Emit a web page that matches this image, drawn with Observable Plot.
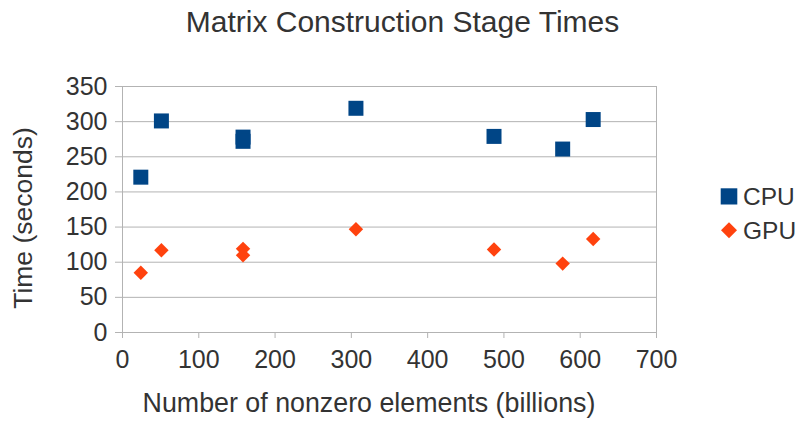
<!DOCTYPE html>
<html>
<head>
<meta charset="utf-8">
<script src="https://cdn.jsdelivr.net/npm/d3@7"></script>
<script src="https://cdn.jsdelivr.net/npm/@observablehq/plot@0.6"></script>
<style>
  html, body { margin: 0; padding: 0; background: #fff; }
  #chart { width: 799px; height: 421px; }
  svg { font-family: "Liberation Sans", Arial, sans-serif; color: #333; }
</style>
</head>
<body>
<div id="chart"></div>
<script>
const title = "Matrix Construction Stage Times";
const xLabel = "Number of nonzero elements (billions)";
const yLabel = "Time (seconds)";
const seriesNames = ["CPU", "GPU"];
const nnz = [24, 51, 158, 158, 306, 487, 577, 617];
const cpuTimes = [221, 301, 278, 272, 319, 279, 261, 303];
const gpuTimes = [85, 117, 119, 110, 147, 118, 98, 133];
const xTicks = [0, 100, 200, 300, 400, 500, 600, 700];
const yTicks = [0, 50, 100, 150, 200, 250, 300, 350];
const colors = ["#004586", "#ff420e"];

const cpu = nnz.map((x, i) => ({x, y: cpuTimes[i]}));
const gpu = nnz.map((x, i) => ({x, y: gpuTimes[i]}));

const svg = Plot.plot({
  width: 799,
  height: 421,
  marginLeft: 122,
  marginRight: 143,
  marginTop: 86,
  marginBottom: 89,
  style: {fontFamily: '"Liberation Sans", Arial, sans-serif', color: "#333", background: "#fff"},
  x: {domain: [0, 700]},
  y: {domain: [0, 350]},
  marks: [
    Plot.ruleY(yTicks, {stroke: "#b3b3b3", strokeWidth: 1}),
    Plot.frame({stroke: "#b3b3b3", strokeWidth: 1}),
    Plot.axisX({ticks: xTicks, tickSize: 6, tickPadding: 12, fontSize: 25, stroke: "#b3b3b3", fill: "#333", label: null}),
    Plot.axisY({ticks: yTicks, tickSize: 7, tickPadding: 8, fontSize: 25, stroke: "#b3b3b3", fill: "#333", label: null}),
    Plot.dot(cpu, {x: "x", y: "y", symbol: "square", r: 8.46, fill: colors[0], stroke: "none"}),
    Plot.dot(gpu, {x: "x", y: "y", symbol: "diamond2", r: 6.5, fill: colors[1], stroke: "none"})
  ]
});
document.getElementById("chart").appendChild(svg);

const s = d3.select(svg);
const font = '"Liberation Sans", Arial, sans-serif';
s.append("text").text(title)
  .attr("x", 402.5).attr("y", 31.7).attr("text-anchor", "middle")
  .attr("font-size", 30).attr("font-family", font).attr("fill", "#333");
s.append("text").text(xLabel)
  .attr("x", 369).attr("y", 411.5).attr("text-anchor", "middle")
  .attr("font-size", 26.8).attr("font-family", font).attr("fill", "#333");
s.append("text").text(yLabel)
  .attr("transform", "translate(32,218) rotate(-90)").attr("text-anchor", "middle")
  .attr("font-size", 26.5).attr("font-family", font).attr("fill", "#333");

// legend
const leg = s.append("g").attr("text-anchor", "start");
leg.append("rect").attr("x", 720.7).attr("y", 188.3).attr("width", 16.6).attr("height", 16.2).attr("fill", colors[0]);
leg.append("path").attr("d", "M729,222.3L737,230.3L729,238.3L721,230.3Z").attr("fill", colors[1]);
leg.append("text").text(seriesNames[0]).attr("x", 743).attr("y", 205).attr("text-anchor", "start")
  .attr("font-size", 24.5).attr("font-family", font).attr("fill", "#333");
leg.append("text").text(seriesNames[1]).attr("x", 743).attr("y", 239).attr("text-anchor", "start")
  .attr("font-size", 24.5).attr("font-family", font).attr("fill", "#333");
</script>
</body>
</html>
